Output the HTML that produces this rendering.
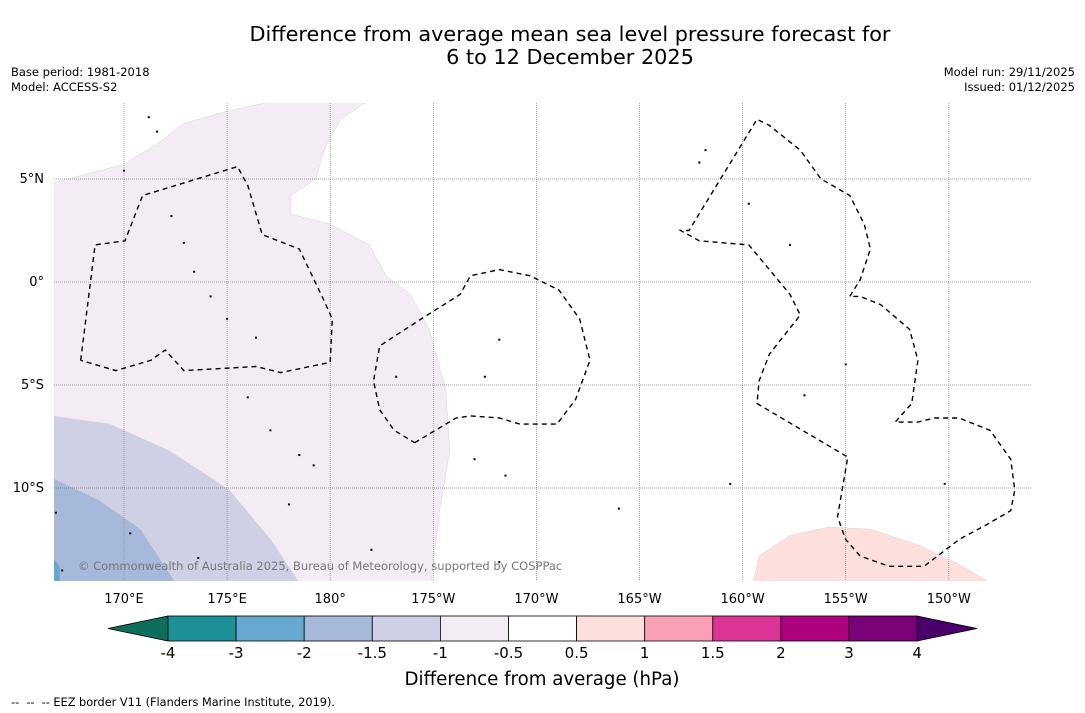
<!DOCTYPE html>
<html><head><meta charset="utf-8">
<style>
body{margin:0;background:#fff;font-family:"DejaVu Sans","Liberation Sans",sans-serif;}
#wrap{position:relative;width:1085px;height:713px;overflow:hidden;background:#fff;}
svg text{font-family:"DejaVu Sans","Liberation Sans",sans-serif;}
</style></head>
<body>
<div id="wrap">
<svg id="svg" width="1085" height="713" xmlns="http://www.w3.org/2000/svg">
<text x="570" y="41" font-size="20.8" text-anchor="middle">Difference from average mean sea level pressure forecast for</text>
<text x="570" y="64" font-size="20.8" text-anchor="middle">6 to 12 December 2025</text>
<text x="11" y="76" font-size="11.5">Base period: 1981-2018</text>
<text x="11" y="91" font-size="11.5">Model: ACCESS-S2</text>
<text x="1075" y="76" font-size="11.5" text-anchor="end">Model run: 29/11/2025</text>
<text x="1075" y="91" font-size="11.5" text-anchor="end">Issued: 01/12/2025</text>
<defs><clipPath id="mapclip"><rect x="54" y="103" width="977" height="478"/></clipPath></defs>
<g id="map" clip-path="url(#mapclip)"></g>
<g id="grid"></g>
<g id="eez" clip-path="url(#mapclip)"></g>
<g id="axes"></g>
<text x="78" y="570" font-size="11.5" fill="#777">© Commonwealth of Australia 2025, Bureau of Meteorology, supported by COSPPac</text>
<g id="cbar"></g>
<text x="542" y="685" font-size="18.2" text-anchor="middle">Difference from average (hPa)</text>
<text x="11" y="706" font-size="11.3">--&#160;&#160;--&#160;&#160;-- EEZ border V11 (Flanders Marine Institute, 2019).</text>
</svg>
</div>
<script>
const lonTicks=[170,175,180,185,190,195,200,205,210];
const lonLabels=["170°E","175°E","180°","175°W","170°W","165°W","160°W","155°W","150°W"];
const latTicks=[5,0,-5,-10];
const latLabels=["5°N","0°","5°S","10°S"];
const cbLevels=["-4","-3","-2","-1.5","-1","-0.5","0.5","1","1.5","2","3","4"];
const cbColors=["#1d9098","#66a8cf","#a7b9da","#cfd0e5","#f3ecf5","#ffffff","#fde0de","#f9a0b5","#dd3497","#ae017e","#7a0177"];
const cbLowColor="#0d6e5c", cbHighColor="#49006a";
const fillLavender=[[166.5,4.8],[169.95,5.7],[171.6,6.7],[172.9,7.7],[175.0,8.3],[176.9,8.7],[181.7,8.7],[180.5,7.9],[179.7,6.4],[179.3,5.0],[178.1,4.2],[178.1,3.3],[180.0,2.8],[181.9,1.8],[182.7,0.3],[183.9,-0.6],[184.8,-2.3],[185.6,-5.2],[185.8,-8.2],[185.3,-11.1],[184.9,-14.6],[166.5,-14.6]];
const fillGrey=[[166.5,-6.5],[169.3,-6.9],[172.2,-8.2],[175.1,-10.1],[177.1,-12.5],[178.5,-14.6],[166.5,-14.6]];
const fillBlue=[[166.5,-9.5],[168.8,-10.6],[170.8,-12.0],[172.5,-14.6],[166.5,-14.6]];
const fillDeep=[[166.5,-13.3],[166.9,-13.8],[166.9,-14.6],[166.5,-14.6]];
const fillPink=[[200.5,-14.6],[200.8,-13.3],[202.3,-12.3],[204.2,-11.9],[206.2,-12.0],[208.6,-12.8],[210.5,-13.7],[212.0,-14.6]];
const eezA=[[167.9,-3.8],[168.6,1.8],[170.05,2.0],[170.9,4.2],[175.5,5.6],[176.0,4.7],[176.7,2.3],[178.5,1.6],[179.7,-0.9],[180.1,-1.8],[180.0,-3.9],[177.6,-4.4],[176.4,-4.1],[172.9,-4.3],[172.0,-3.3],[171.3,-3.8],[169.6,-4.3],[167.9,-3.8]];
const eezB=[[184.1,-7.8],[186.1,-6.6],[186.8,-6.5],[188.2,-6.6],[189.2,-6.9],[191.0,-6.9],[191.9,-5.7],[192.6,-3.8],[192.1,-1.8],[191.1,-0.4],[189.7,0.3],[188.2,0.6],[186.8,0.3],[186.3,-0.6],[184.4,-1.8],[182.4,-3.1],[182.1,-4.8],[182.4,-6.2],[183.1,-7.2],[184.1,-7.8]];
const eezC=[[205.2,-0.7],[205.7,0.1],[206.2,1.6],[205.9,2.8],[205.2,4.2],[203.8,5.0],[202.8,6.4],[201.3,7.6],[200.7,7.9],[197.4,2.5],[197.0,2.5],[197.9,2.0],[200.3,1.8],[201.3,0.6],[202.3,-0.6],[202.8,-1.6],[201.3,-3.5],[200.8,-4.8],[200.7,-5.9],[205.1,-8.5],[204.6,-11.4],[205.0,-12.5],[205.7,-13.3],[207.1,-13.8],[208.8,-13.8],[210.5,-12.5],[211.8,-11.8],[213.0,-11.1],[213.2,-10.1],[213.0,-8.6],[212.0,-7.2],[210.5,-6.6],[209.3,-6.6],[208.5,-6.8],[207.4,-6.8],[208.2,-5.9],[208.5,-3.8],[208.1,-2.3],[206.7,-1.1],[205.7,-0.7],[205.2,-0.7]];
const islands=[[170.0,5.4],[172.3,3.2],[172.9,1.9],[173.4,0.5],[174.2,-0.7],[175.0,-1.8],[176.4,-2.7],[176.0,-5.6],[177.1,-7.2],[178.5,-8.4],[179.2,-8.9],[183.2,-4.6],[188.2,-2.8],[187.5,-4.6],[187.0,-8.6],[188.5,-9.4],[194.0,-11.0],[199.4,-9.8],[203.0,-5.5],[205.0,-4.0],[209.8,-9.8],[202.3,1.8],[200.3,3.8],[198.2,6.4],[197.9,5.8],[171.6,7.3],[171.2,8.0],[166.7,-11.2],[167.0,-14.0],[173.6,-13.4],[182.0,-13.0],[188.2,-13.6],[178.0,-10.8],[170.3,-12.2]];
const X0=124,XS=20.62,Y0=282,YS=20.6;
function xOf(lon){return X0+(lon-170)*XS;}
function yOf(lat){return Y0-lat*YS;}
const NS="http://www.w3.org/2000/svg";
function mk(tag,attrs,parent){const e=document.createElementNS(NS,tag);for(const k in attrs)e.setAttribute(k,attrs[k]);parent.appendChild(e);return e;}
function pts(a){return a.map(p=>xOf(p[0]).toFixed(1)+","+yOf(p[1]).toFixed(1)).join(" ");}
const map=document.getElementById('map');
[[fillLavender,"#f3ecf5","fill-minus1"],[fillGrey,"#cfd0e5","fill-minus1-5"],[fillBlue,"#a7b9da","fill-minus2"],[fillDeep,"#66a8cf","fill-minus3"],[fillPink,"#fde0de","fill-plus0-5"]].forEach(f=>{
  const p=mk('polygon',{points:pts(f[0]),fill:f[1],stroke:"#ccc","stroke-width":"0.4"},map);
  
  
});
islands.forEach(p=>{
  const r=mk('rect',{x:xOf(p[0])-1,y:yOf(p[1])-1,width:2,height:2,fill:"#000"},map);
  
  
});
const grid=document.getElementById('grid');
lonTicks.forEach(l=>{mk('line',{x1:xOf(l),x2:xOf(l),y1:103,y2:581,stroke:"#888","stroke-width":"0.7","stroke-dasharray":"1,1"},grid);});
latTicks.forEach(l=>{mk('line',{x1:54,x2:1031,y1:yOf(l),y2:yOf(l),stroke:"#444","stroke-width":"0.6","stroke-dasharray":"1,1"},grid);});
const eez=document.getElementById('eez');
[eezA,eezB,eezC].forEach((a,i)=>{
  const p=mk('polyline',{points:pts(a),fill:"none",stroke:"#000","stroke-width":"1.4","stroke-dasharray":"5,4"},eez);
  
  
});
const axes=document.getElementById('axes');
lonTicks.forEach((l,i)=>{
  const t=mk('text',{x:xOf(l),y:603,"font-size":"13","text-anchor":"middle"},axes);t.textContent=lonLabels[i];
  
  
});
latTicks.forEach((l,i)=>{
  const t=mk('text',{x:44,y:yOf(l)+4,"font-size":"13","text-anchor":"end"},axes);t.textContent=latLabels[i];
  
  
});
const cb=document.getElementById('cbar');
const cx0=168,cw=68.1,cy=616,ch=25;
mk('polygon',{points:`108,${cy+ch/2} ${cx0},${cy} ${cx0},${cy+ch}`,fill:cbLowColor,stroke:"#000","stroke-width":"0.8"},cb);
const cxEnd=cx0+cbColors.length*cw;
mk('polygon',{points:`${cxEnd},${cy} 977,${cy+ch/2} ${cxEnd},${cy+ch}`,fill:cbHighColor,stroke:"#000","stroke-width":"0.8"},cb);
cbColors.forEach((c,i)=>{
  const r=mk('rect',{x:cx0+i*cw,y:cy,width:cw,height:ch,fill:c,stroke:"#000","stroke-width":"0.8"},cb);
  
  
});
cbLevels.forEach((v,i)=>{
  const t=mk('text',{x:cx0+i*cw,y:658,"font-size":"15","text-anchor":"middle"},cb);t.textContent=v;
  
  
});
</script>
</body></html>
